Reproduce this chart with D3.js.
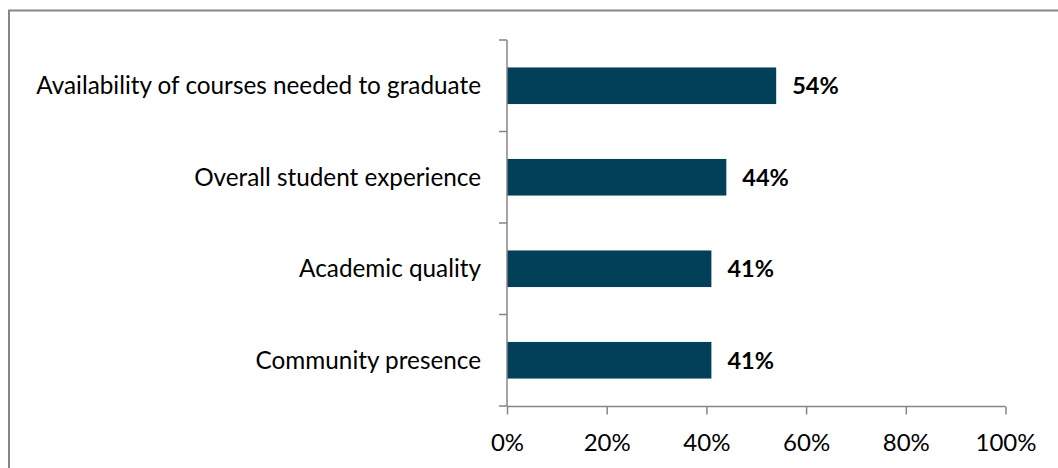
<!DOCTYPE html>
<html>
<head>
<meta charset="utf-8">
<script src="https://cdn.jsdelivr.net/npm/d3@7"></script>
<style>
  html, body { margin: 0; padding: 0; background: #fff; }
  svg { display: block; font-family: Lato, "Open Sans", sans-serif; }
</style>
</head>
<body>
<svg id="chart" width="1058" height="468"></svg>
<script>
// Share of respondents rating each factor
const categories = [
  "Availability of courses needed to graduate",
  "Overall student experience",
  "Academic quality",
  "Community presence"
];
const values = [54, 44, 41, 41];
const tickValues = [0, 20, 40, 60, 80, 100];

(function draw() {
  const svg = d3.select("#chart");
  const axisColor = "#868686";
  const barColor = "#023f58";

  // Outer chart frame (top and left edges visible)
  svg.append("path")
    .attr("d", "M9,480 L9,10.5 L1070,10.5")
    .attr("fill", "none")
    .attr("stroke", axisColor)
    .attr("stroke-width", 2);

  const x = d3.scaleLinear().domain([0, 100]).range([507, 1005.5]);
  const y = d3.scaleBand().domain(categories).range([40, 406])
    .paddingInner(0.6).paddingOuter(0.3);

  // Bars
  svg.selectAll("rect.bar").data(values).join("rect")
    .attr("class", "bar")
    .attr("x", x(0))
    .attr("y", (d, i) => y(categories[i]))
    .attr("width", d => x(d) - x(0))
    .attr("height", y.bandwidth())
    .attr("fill", barColor);

  // Value labels
  svg.selectAll("text.val").data(values).join("text")
    .attr("class", "val")
    .attr("x", d => x(d) + 16)
    .attr("y", (d, i) => y(categories[i]) + y.bandwidth() / 2)
    .attr("dy", "0.36em")
    .attr("font-size", 23.5)
    .attr("font-weight", "bold")
    .attr("fill", "#000")
    .text(d => d + "%");

  // X axis
  const xAxis = d3.axisBottom(x).tickValues(tickValues).tickSize(8)
    .tickFormat(d => d + "%");
  const gx = svg.append("g").attr("transform", "translate(0,406.5)").call(xAxis);
  gx.select(".domain").attr("stroke", axisColor).attr("stroke-width", 1.5)
    .attr("d", `M${x(0)},0H${x(100)}`);
  gx.selectAll(".tick line").attr("stroke", axisColor).attr("stroke-width", 1.5);
  gx.selectAll(".tick text")
    .attr("y", 44.5).attr("dy", 0)
    .attr("font-size", 24).attr("font-family", "Lato, sans-serif").attr("fill", "#000");

  // Y axis line with boundary ticks between categories
  const step = y.step();
  const y0 = y.range()[0];
  const boundaries = d3.range(categories.length + 1).map(i => y0 + i * step);
  svg.append("line")
    .attr("x1", x(0)).attr("x2", x(0))
    .attr("y1", boundaries[0]).attr("y2", boundaries[boundaries.length - 1])
    .attr("stroke", axisColor).attr("stroke-width", 1.5);
  svg.selectAll("line.ytick").data(boundaries).join("line")
    .attr("class", "ytick")
    .attr("x1", x(0) - 8).attr("x2", x(0))
    .attr("y1", d => d).attr("y2", d => d)
    .attr("stroke", axisColor).attr("stroke-width", 1.5);

  // Category labels
  svg.selectAll("text.cat").data(categories).join("text")
    .attr("class", "cat")
    .attr("x", 481)
    .attr("y", d => y(d) + y.bandwidth() / 2)
    .attr("dy", "0.35em")
    .attr("text-anchor", "end")
    .attr("font-size", 24.3)
    .attr("fill", "#000")
    .text(d => d);
})();
</script>
</body>
</html>
